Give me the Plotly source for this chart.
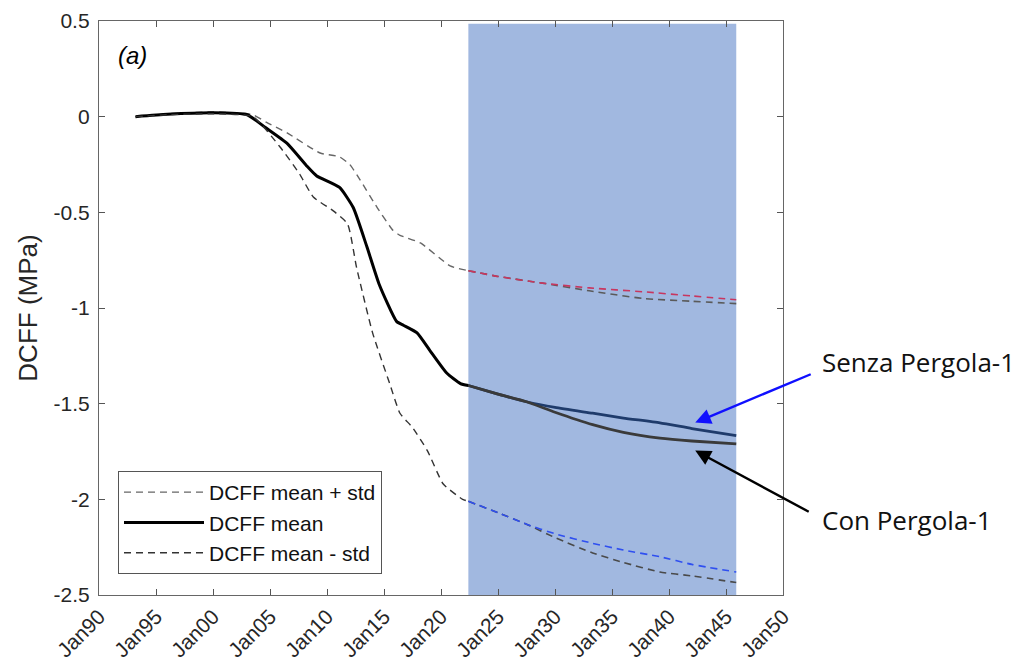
import plotly.graph_objects as go

# ---------------- data (decimal years, MPa) ----------------
hist_years_mean = [1993.2, 1996, 2000, 2003, 2004.6, 2006.5, 2008.2, 2009.1, 2011.1, 2012.3,
                   2013.5, 2014.6, 2016.1, 2016.7, 2017.9, 2019.0, 2020.5, 2021.7, 2022.4]
hist_mean = [0.0, 0.012, 0.02, 0.01, -0.057, -0.14, -0.256, -0.31, -0.37, -0.475,
             -0.68, -0.88, -1.07, -1.09, -1.13, -1.22, -1.34, -1.395, -1.405]

hist_years_up = [1993.2, 1996, 2000, 2003.5, 2004.7, 2006.5, 2009.4, 2011.1, 2012, 2012.9,
                 2014.4, 2015.8, 2016.4, 2018.2, 2020.8, 2022.4]
hist_up = [0.0, 0.015, 0.025, 0.01, -0.03, -0.085, -0.19, -0.21, -0.25, -0.33,
           -0.475, -0.595, -0.62, -0.66, -0.78, -0.805]

hist_years_low = [1993.2, 1996, 2000, 2003.5, 2005.9, 2007.6, 2008.8, 2010.5, 2011.8, 2012.6,
                  2014.0, 2015.5, 2016.4, 2017.5, 2018.8, 2020.2, 2021.9, 2022.4]
hist_low = [0.0, 0.01, 0.015, 0.0, -0.16, -0.30, -0.42, -0.49, -0.56, -0.79,
            -1.13, -1.395, -1.55, -1.625, -1.745, -1.92, -2.0, -2.01]

proj_years = [2022.4, 2025, 2027.5, 2030, 2033.3, 2036, 2039.2, 2042, 2045.9]
senza_mean = [-1.405, -1.45, -1.49, -1.52, -1.55, -1.575, -1.60, -1.63, -1.667]
con_mean = [-1.405, -1.45, -1.49, -1.545, -1.61, -1.65, -1.68, -1.695, -1.71]
senza_low = [-2.01, -2.07, -2.13, -2.18, -2.23, -2.265, -2.30, -2.34, -2.38]
con_low = [-2.01, -2.07, -2.13, -2.20, -2.28, -2.33, -2.38, -2.40, -2.435]

proj_years_up = [2022.4, 2025, 2028.9, 2033, 2037.7, 2042, 2045.9]
senza_up = [-0.805, -0.835, -0.87, -0.895, -0.915, -0.937, -0.957]
con_up = [-0.805, -0.835, -0.87, -0.91, -0.95, -0.965, -0.977]

shade_years = [2022.4, 2045.9]
tick_years = list(range(1990, 2051, 5))
tick_labels = ["Jan90", "Jan95", "Jan00", "Jan05", "Jan10", "Jan15", "Jan20",
               "Jan25", "Jan30", "Jan35", "Jan40", "Jan45", "Jan50"]
y_ticks = [0.5, 0, -0.5, -1, -1.5, -2, -2.5]
y_labels = ["0.5", "0", "-0.5", "-1", "-1.5", "-2", "-2.5"]

FONT = "Liberation Sans, Arial, Helvetica, sans-serif"
LBLFONT = "Open Sans, Liberation Sans, sans-serif"
DASH = "7px,5px"
SM = 0.5

# page offset (body margin) and plot-area margins in figure pixels
OFF = 8
L, T = 99 - OFF, 21 - OFF
R = 1024 - (783 - OFF)
B = 666 - (595 - OFF)
PW, PH = 1024 - L - R, 666 - T - B


def to_paper(px, py):
    return (px - OFF - L) / PW, 1 - (py - OFF - T) / PH


fig = go.Figure()

fig.add_trace(go.Scatter(x=proj_years_up, y=con_up, mode="lines", showlegend=False,
                         line=dict(color="#5a5a5a", width=1.6, dash=DASH, shape="spline", smoothing=SM)))
fig.add_trace(go.Scatter(x=proj_years_up, y=senza_up, mode="lines", showlegend=False,
                         line=dict(color="#c8365f", width=1.6, dash=DASH, shape="spline", smoothing=SM)))
fig.add_trace(go.Scatter(x=proj_years, y=con_low, mode="lines", showlegend=False,
                         line=dict(color="#4a4a4a", width=1.6, dash=DASH, shape="spline", smoothing=SM)))
fig.add_trace(go.Scatter(x=proj_years, y=senza_low, mode="lines", showlegend=False,
                         line=dict(color="#2f4ff0", width=1.6, dash=DASH, shape="spline", smoothing=SM)))
fig.add_trace(go.Scatter(x=proj_years, y=senza_mean, mode="lines", showlegend=False,
                         line=dict(color="#1f3b6b", width=2.8, shape="spline", smoothing=SM)))
fig.add_trace(go.Scatter(x=proj_years, y=con_mean, mode="lines", showlegend=False,
                         line=dict(color="#3a3a3a", width=2.8, shape="spline", smoothing=SM)))

fig.add_trace(go.Scatter(x=hist_years_up, y=hist_up, mode="lines", name="DCFF mean + std",
                         line=dict(color="#666666", width=1.4, dash=DASH, shape="spline", smoothing=SM)))
fig.add_trace(go.Scatter(x=hist_years_mean, y=hist_mean, mode="lines", name="DCFF mean",
                         line=dict(color="#000000", width=3, shape="spline", smoothing=SM)))
fig.add_trace(go.Scatter(x=hist_years_low, y=hist_low, mode="lines", name="DCFF mean - std",
                         line=dict(color="#333333", width=1.4, dash=DASH, shape="spline", smoothing=SM)))

fig.add_shape(type="rect", xref="x", yref="y", x0=shade_years[0], x1=shade_years[1],
              y0=-2.5, y1=0.485, fillcolor="#a1b8e0", line=dict(width=0), layer="below")

ax_, ay_ = to_paper(116, 40)
fig.add_annotation(x=ax_, y=ay_, xref="paper", yref="paper", text="<i>(a)</i>",
                   showarrow=False, xanchor="left", yanchor="top",
                   font=dict(family=FONT, size=24, color="#000000"))
fig.add_annotation(x=2042.3, y=-1.599, xref="x", yref="y", ax=117, ay=-49, axref="pixel", ayref="pixel",
                   text="", showarrow=True, arrowhead=2, arrowsize=1.3, arrowwidth=2.4, arrowcolor="#1010ff")
fig.add_annotation(x=2042.3, y=-1.745, xref="x", yref="y", ax=115, ay=62, axref="pixel", ayref="pixel",
                   text="", showarrow=True, arrowhead=2, arrowsize=1.3, arrowwidth=2.4, arrowcolor="#000000")
sx, sy = to_paper(820, 362)
fig.add_annotation(x=sx, y=sy, xref="paper", yref="paper", text="Senza Pergola-1", showarrow=False,
                   xanchor="left", yanchor="middle",
                   font=dict(family=LBLFONT, size=26, color="#111111"))
cx, cy = to_paper(820, 520)
fig.add_annotation(x=cx, y=cy, xref="paper", yref="paper", text="Con Pergola-1", showarrow=False,
                   xanchor="left", yanchor="middle",
                   font=dict(family=LBLFONT, size=26, color="#111111"))

lx, ly = to_paper(118, 574)
fig.update_layout(
    width=1024, height=666,
    margin=dict(l=L, r=R, t=T, b=B, autoexpand=False),
    paper_bgcolor="white", plot_bgcolor="white",
    font=dict(family=FONT, color="#262626"),
    showlegend=True,
    legend=dict(x=lx, y=ly, xanchor="left", yanchor="bottom",
                bgcolor="white", bordercolor="#555555", borderwidth=1,
                font=dict(family=FONT, size=21, color="#111111"),
                tracegroupgap=0, itemwidth=80),
)
fig.update_xaxes(range=[1990, 2050], tickmode="array", tickvals=tick_years, ticktext=tick_labels,
                 tickangle=-45, ticks="inside", ticklen=6, tickcolor="#555555",
                 showline=True, linecolor="#666666", linewidth=1.3, mirror="ticks",
                 showgrid=False, zeroline=False, automargin=False,
                 tickfont=dict(family=FONT, size=21, color="#262626"))
fig.update_yaxes(range=[-2.5, 0.5], tickmode="array", tickvals=y_ticks, ticktext=y_labels,
                 ticks="inside", ticklen=6, tickcolor="#555555",
                 showline=True, linecolor="#666666", linewidth=1.3, mirror="ticks",
                 showgrid=False, zeroline=False, automargin=False, ticklabelstandoff=4,
                 tickfont=dict(family=FONT, size=21, color="#262626"),
                 title=dict(text="DCFF (MPa)", font=dict(family=FONT, size=26, color="#262626"), standoff=8))

fig.write_html("out.html")
